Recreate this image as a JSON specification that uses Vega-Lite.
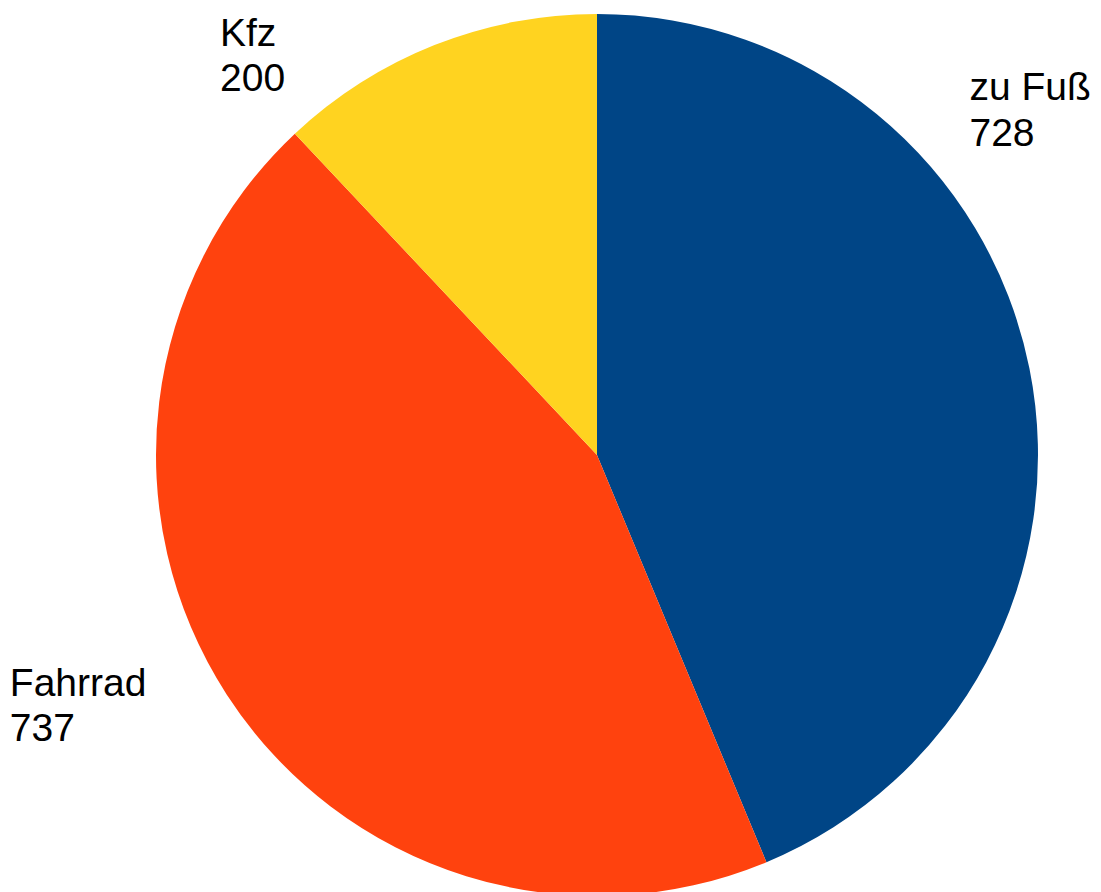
{
  "$schema": "https://vega.github.io/schema/vega-lite/v6.json",
  "autosize": "none",
  "width": 1008,
  "height": 874,
  "padding": {"left": 93, "top": 18, "right": 0, "bottom": 0},
  "background": "white",
  "config": {"view": {"stroke": null}},
  "data": {
    "values": [
      {"mode": "zu Fuß", "count": 728, "idx": 1},
      {"mode": "Fahrrad", "count": 737, "idx": 2},
      {"mode": "Kfz", "count": 200, "idx": 3}
    ]
  },
  "transform": [
    {"calculate": "datum.mode + '\\n' + datum.count", "as": "label"}
  ],
  "encoding": {
    "theta": {"field": "count", "type": "quantitative", "stack": true},
    "order": {"field": "idx", "type": "quantitative"}
  },
  "layer": [
    {
      "mark": {"type": "arc", "outerRadius": 441, "stroke": null},
      "encoding": {
        "color": {
          "field": "mode",
          "type": "nominal",
          "scale": {"domain": ["zu Fuß", "Fahrrad", "Kfz"], "range": ["#004586", "#ff420e", "#ffd320"]},
          "legend": null
        }
      }
    },
    {
      "mark": {"type": "text", "radius": 441, "align": "left", "baseline": "alphabetic", "dx": -60, "dy": -268.6, "fontSize": 39, "font": "Liberation Sans", "lineBreak": "\n", "lineHeight": 45.5, "color": "black"},
      "encoding": {
        "text": {"condition": {"test": "datum.mode === 'zu Fuß'", "field": "label"}, "value": ""}
      }
    },
    {
      "mark": {"type": "text", "radius": 441, "align": "left", "baseline": "alphabetic", "dx": -217, "dy": 0.9, "fontSize": 39, "font": "Liberation Sans", "lineBreak": "\n", "lineHeight": 45.5, "color": "black"},
      "encoding": {
        "text": {"condition": {"test": "datum.mode === 'Fahrrad'", "field": "label"}, "value": ""}
      }
    },
    {
      "mark": {"type": "text", "radius": 441, "align": "left", "baseline": "alphabetic", "dx": -214.5, "dy": 0.5, "fontSize": 39, "font": "Liberation Sans", "lineBreak": "\n", "lineHeight": 45.5, "color": "black"},
      "encoding": {
        "text": {"condition": {"test": "datum.mode === 'Kfz'", "field": "label"}, "value": ""}
      }
    }
  ]
}
